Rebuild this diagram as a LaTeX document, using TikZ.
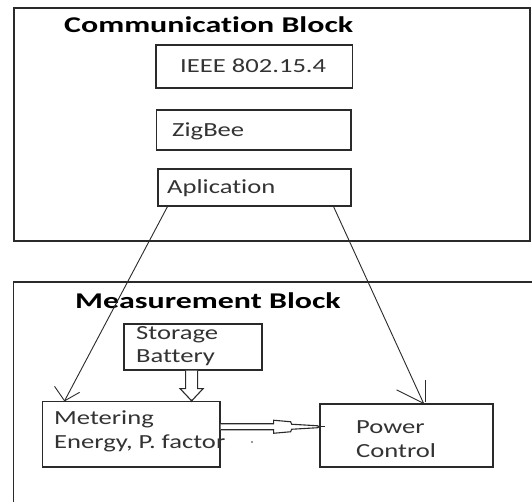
\documentclass[tikz,border=0pt]{standalone}
\usepackage{fontspec}
\usetikzlibrary{calc}
\newfontfamily\bodyfont[FakeStretch=1.33,Ligatures=NoCommon]{Carlito}
\newfontfamily\headfont[FakeStretch=1.42,Ligatures=NoCommon,BoldFont={Carlito Bold}]{Carlito}
\definecolor{ink}{HTML}{2A2A2A}
\definecolor{txt}{HTML}{333333}
\tikzset{
  frame/.style={draw=ink, line width=1.3pt, inner sep=0pt},
  box/.style={draw=ink, line width=1.3pt, inner sep=0pt},
  label/.style={anchor=base west, inner sep=0pt, text=txt, font=\bodyfont\fontsize{20}{22}\selectfont},
  title/.style={anchor=base west, inner sep=0pt, text=black, font=\headfont\bfseries\fontsize{22.5}{26}\selectfont},
  wire/.style={draw=ink, line width=0.9pt},
  fat/.style={draw=ink, line width=1.1pt, fill=white, line join=miter},
}
\begin{document}
\begin{tikzpicture}[x=1pt, y=-1pt]
  \useasboundingbox (0,0) rectangle (532,502);
  \clip (0,0) rectangle (532,502);
  \fill[white] (0,0) rectangle (532,502);

  % communication block
  \node[frame, minimum width=516pt, minimum height=233pt] (comm) at (272,124.5) {};
  \node[title] (commT) at (64,33) {Communication Block};
  \node[box, minimum width=196.5pt, minimum height=43pt] (ieee) at (254.25,66.5) {};
  \node[label] (ieeeT) at (180,72.5) {IEEE 802.15.4};
  \node[box, minimum width=194.5pt, minimum height=40pt] (zigbee) at (253.75,130) {};
  \node[label] (zigbeeT) at (172,137) {ZigBee};
  \node[box, minimum width=193pt, minimum height=37pt] (app) at (254.5,187.5) {};
  \node[label] (appT) at (167,194) {Aplication};

  % measurement block, running past the right and lower edges
  \draw[ink, line width=1.3pt] (560,282) -- (13.5,282) -- (13.5,530);
  \node[title] (measT) at (75,308) {Measurement Block};
  \node[box, minimum width=138pt, minimum height=46pt] (storage) at (193,347) {};
  \node[label] (storageT) at (136,339) {Storage};
  \node[label] (batteryT) at (136,362) {Battery};
  \node[box, minimum width=177.5pt, minimum height=65.5pt] (meter) at (131.25,434.25) {};
  \node[box, minimum width=173pt, minimum height=63pt] (power) at (406.5,435.5) {};
  \node[label] (meterT) at (54,424) {Metering};
  \node[label] (energyT) at (54,448) {Energy, P. factor};
  \node[label] (powerT) at (356,433) {Power};
  \node[label] (controlT) at (356,457) {Control};

  % links from the application layer
  \coordinate (aL) at ($(app.south west)!0.052!(app.south east)$);
  \coordinate (aR) at ($(app.south west)!0.907!(app.south east)$);
  \coordinate (tL) at ($(meter.north west)!0.127!(meter.north east)$);
  \coordinate (tR) at ($(power.north west)!0.598!(power.north east)$);
  \draw[wire] (aL) -- (tL);
  \draw[wire] (tL) -- ++(-10,-14.5);
  \draw[wire] (tL) -- ++(15,-8.5);
  \draw[wire] (aR) -- (tR);
  \draw[wire] (tR) -- ++(-27,-13.5);
  \draw[wire] ($(tR)+(2.2,-1)$) -- ++(0,-22);

  % hollow arrow: storage battery to metering
  \coordinate (sb) at ($(storage.south west)!0.49!(storage.south east)$);
  \coordinate (mt) at (sb |- meter.north);
  \draw[fat] ($(sb)+(-6,0)$) -- ($(sb)+(-6,18)$) -- ($(sb)+(-11.5,18)$) -- (mt)
    -- ($(sb)+(11.5,18)$) -- ($(sb)+(6,18)$) -- ($(sb)+(6,0)$);
  \fill[ink] (mt) circle (1.4pt);

  % hollow arrow: metering to power control
  \coordinate (ms) at ($(meter.east)+(0,-7.5)$);
  \coordinate (pw) at (power.west |- ms);
  \draw[fat] (ms) ++(0,-3) -- ++(53,0) -- ++(0,-3.5) -- ++(17,1.5) -- ++(1,2.5)
    -- ($(pw)+(-2,-1)$) -- (pw) -- ($(pw)+(-2,1)$) -- ($(ms)+(71,2.5)$)
    -- ($(ms)+(70,5)$) -- ($(ms)+(53,6.5)$) -- ($(ms)+(53,3)$) -- ($(ms)+(0,3)$);
  \draw[wire, line width=1.3pt] (pw) -- ++(6,0);
  \fill[txt] (252,442) circle (0.8pt);
\end{tikzpicture}
\end{document}
